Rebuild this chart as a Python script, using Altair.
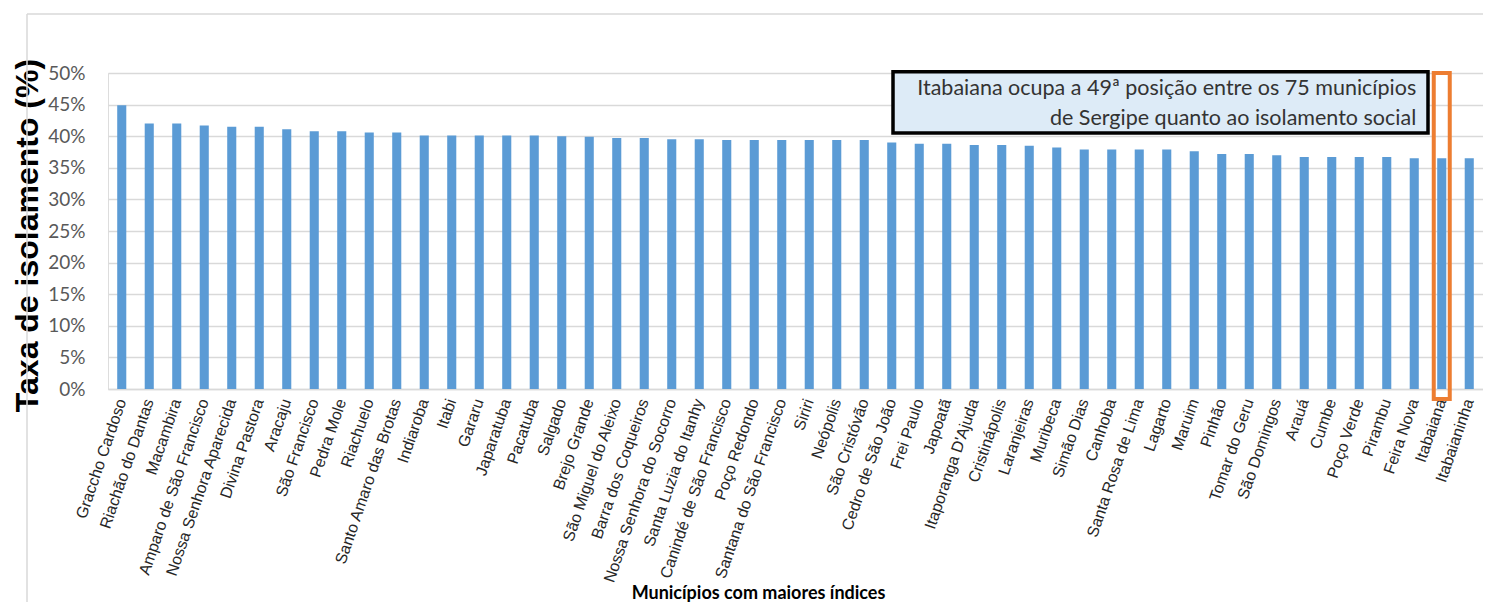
import altair as alt
import pandas as pd

municipios = [
    "Graccho Cardoso", "Riachão do Dantas", "Macambira", "Amparo de São Francisco",
    "Nossa Senhora Aparecida", "Divina Pastora", "Aracaju", "São Francisco",
    "Pedra Mole", "Riachuelo", "Santo Amaro das Brotas", "Indiaroba", "Itabi",
    "Gararu", "Japaratuba", "Pacatuba", "Salgado", "Brejo Grande",
    "São Miguel do Aleixo", "Barra dos Coqueiros", "Nossa Senhora do Socorro",
    "Santa Luzia do Itanhy", "Canindé de São Francisco", "Poço Redondo",
    "Santana do São Francisco", "Siriri", "Neópolis", "São Cristóvão",
    "Cedro de São João", "Frei Paulo", "Japoatã", "Itaporanga D'Ajuda",
    "Cristinápolis", "Laranjeiras", "Muribeca", "Simão Dias", "Canhoba",
    "Santa Rosa de Lima", "Lagarto", "Maruim", "Pinhão", "Tomar do Geru",
    "São Domingos", "Arauá", "Cumbe", "Poço Verde", "Pirambu", "Feira Nova",
    "Itabaiana", "Itabaianinha",
]
taxa = [
    0.449, 0.420, 0.420, 0.417, 0.415, 0.415, 0.411, 0.408, 0.408, 0.406,
    0.406, 0.401, 0.401, 0.401, 0.401, 0.401, 0.400, 0.399, 0.397, 0.397,
    0.395, 0.395, 0.394, 0.394, 0.394, 0.394, 0.394, 0.394, 0.390, 0.388,
    0.388, 0.386, 0.386, 0.385, 0.382, 0.379, 0.379, 0.379, 0.379, 0.376,
    0.372, 0.372, 0.370, 0.367, 0.367, 0.367, 0.367, 0.365, 0.365, 0.365,
]
y_ticks = [0, 0.05, 0.10, 0.15, 0.20, 0.25, 0.30, 0.35, 0.40, 0.45, 0.50]

destaque = ["Itabaiana"]
destaque_topo = [0.50]
destaque_base = [-0.016]

nota_linhas = [
    "Itabaiana ocupa a 49ª posição entre os 75 municípios",
    "de Sergipe quanto ao isolamento social",
]
nota_y = [0.474, 0.428]
nota_x = ["Feira Nova", "Feira Nova"]
nota_topo = [0.502]
nota_base = [0.405]

df = pd.DataFrame({"municipio": municipios, "taxa": taxa})
df_dest = pd.DataFrame({"municipio": destaque, "topo": destaque_topo, "base": destaque_base})
df_nota = pd.DataFrame({"texto": nota_linhas, "y": nota_y, "municipio": nota_x})
df_box = pd.DataFrame({"topo": nota_topo, "base": nota_base})

W = 1375
H = 316

xscale = alt.Scale(domain=municipios, paddingInner=0.67, paddingOuter=0.335)
yscale = alt.Scale(domain=[0, 0.5], nice=False)

xaxis = alt.Axis(
    title="Municípios com maiores índices",
    labelAngle=-71,
    labelFont="Liberation Sans",
    labelFontSize=16,
    labelColor="#262626",
    labelPadding=10,
    labelLimit=400,
    labelOverlap=False,
    ticks=False,
    domainColor="#D9D9D9",
    domainWidth=1.5,
    titleFont="Lato",
    titleFontWeight="bold",
    titleFontSize=18,
    titleColor="#000000",
    titleX=650,
    titleY=209,
    titleAlign="center",
    titleBaseline="alphabetic",
)

yaxis = alt.Axis(
    title="Taxa de isolamento (%)",
    values=y_ticks,
    format=".0%",
    labelFont="Lato",
    labelFontSize=19,
    labelColor="#595959",
    labelPadding=23,
    labelOverlap=False,
    ticks=False,
    domain=False,
    gridColor="#D9D9D9",
    gridWidth=1.5,
    titleFont="Liberation Sans",
    titleFontWeight="bold",
    titleFontSize=32,
    titleColor="#000000",
    titleX=-81,
    titleY=162,
    titleAlign="center",
    titleBaseline="middle",
    titleAngle=-90,
)

bars = alt.Chart(df).mark_bar(color="#5B9BD5").encode(
    x=alt.X("municipio:N", sort=municipios, scale=xscale, axis=xaxis),
    y=alt.Y("taxa:Q", scale=yscale, axis=yaxis),
)

highlight = alt.Chart(df_dest).mark_bar(
    fillOpacity=0, stroke="#ED7D31", strokeWidth=4, width=16
).encode(
    x=alt.X("municipio:N", sort=municipios, scale=xscale, axis=xaxis),
    y=alt.Y("topo:Q", scale=yscale, axis=yaxis),
    y2="base:Q",
)

box = alt.Chart(df_box).mark_rect(
    fill="#DDEBF7", stroke="#000000", strokeWidth=3.5
).encode(
    x=alt.value(785),
    x2=alt.value(1320),
    y=alt.Y("topo:Q", scale=yscale, axis=yaxis),
    y2="base:Q",
)

nota = alt.Chart(df_nota).mark_text(
    align="right", baseline="middle", font="Lato", fontSize=21.5, color="#333333", dx=2
).encode(
    x=alt.X("municipio:N", sort=municipios, scale=xscale, axis=xaxis),
    y=alt.Y("y:Q", scale=yscale, axis=yaxis),
    text="texto:N",
)

frame_left = alt.Chart(df_box).mark_rule(color="#D9D9D9", strokeWidth=1.5).encode(
    x=alt.value(-81), y=alt.value(-59), y2=alt.value(540)
)
frame_top = alt.Chart(df_box).mark_rule(color="#D9D9D9", strokeWidth=1.5).encode(
    x=alt.value(-81), x2=alt.value(1400), y=alt.value(-59)
)

chart = alt.layer(bars, highlight, box, nota, frame_left, frame_top).properties(
    width=W,
    height=H,
    autosize=alt.AutoSizeParams(type="none"),
    padding={"left": 100, "top": 65, "right": 0, "bottom": 213},
).configure_view(stroke=None).configure(background="white")

chart.save("out.html", embed_options={"renderer": "svg", "actions": False})
